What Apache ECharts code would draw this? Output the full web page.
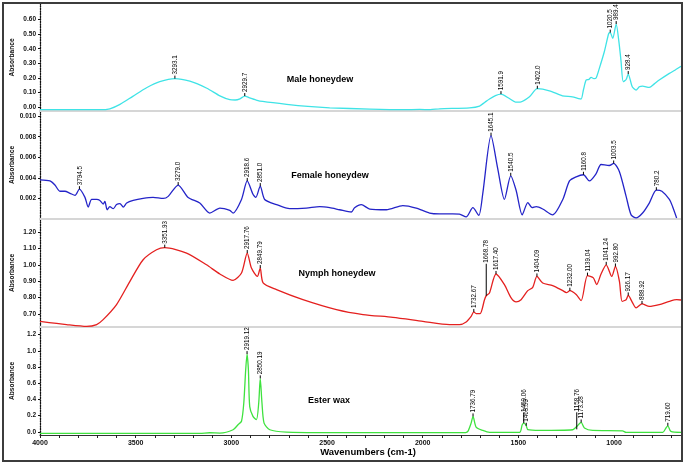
<!DOCTYPE html>
<html>
<head>
<meta charset="utf-8">
<script src="https://cdn.jsdelivr.net/npm/echarts@6/dist/echarts.min.js"></script>
<style>
  html, body { margin: 0; padding: 0; background: #fff; }
  #chart { width: 686px; height: 465px; }
</style>
</head>
<body>
<div id="chart"></div>
<script>
// spectra: [wavenumber, absorbance]
const maleSpectrum = [
  [4000, -0.015], [3800, -0.016], [3687, -0.016], [3635, -0.01], [3582, 0.02], [3515, 0.075],
  [3441, 0.135], [3374, 0.175], [3295, 0.196], [3217, 0.178], [3128, 0.13], [3060, 0.078],
  [3008, 0.052], [2980, 0.05], [2955, 0.058], [2930, 0.077], [2905, 0.065], [2870, 0.05],
  [2836, 0.04], [2711, 0.02], [2600, 0.006], [2486, -0.003], [2277, -0.012], [2100, -0.016],
  [2016, -0.014], [1960, -0.016], [1912, -0.01], [1755, -0.003], [1703, 0.009], [1675, 0.035],
  [1651, 0.057], [1620, 0.08], [1591, 0.09], [1547, 0.06], [1515, 0.036], [1490, 0.036],
  [1442, 0.072], [1401, 0.127], [1338, 0.113], [1270, 0.079], [1218, 0.072], [1185, 0.06],
  [1172, 0.057], [1160, 0.12], [1146, 0.186], [1132, 0.19], [1120, 0.204], [1105, 0.196],
  [1094, 0.2], [1077, 0.266], [1051, 0.379], [1028, 0.504], [1020, 0.51], [1007, 0.47],
  [989, 0.568], [975, 0.45], [964, 0.32], [952, 0.175], [937, 0.19], [926, 0.227], [905, 0.14],
  [885, 0.118], [868, 0.14], [851, 0.145], [816, 0.136], [790, 0.16], [764, 0.186], [711, 0.232],
  [680, 0.255], [650, 0.28]
];
const femaleSpectrum = [
  [4000, 0.0038], [3948, 0.0037], [3922, 0.0033], [3896, 0.0027], [3870, 0.0027], [3843, 0.0025],
  [3817, 0.0023], [3794, 0.0029], [3765, 0.0021], [3748, 0.00116], [3730, 0.0019], [3704, 0.0019],
  [3687, 0.0018], [3670, 0.00145], [3661, 0.0017], [3649, 0.0009], [3635, 0.0012], [3617, 0.001],
  [3600, 0.0014], [3582, 0.0015], [3565, 0.00116], [3547, 0.00155], [3513, 0.0018], [3461, 0.002],
  [3409, 0.0021], [3356, 0.002], [3330, 0.0022], [3278, 0.0033], [3226, 0.0021], [3165, 0.00155],
  [3113, 0.00058], [3060, 0.00106], [3008, 0.00083], [2991, 0.00058], [2947, 0.0019], [2917, 0.0037],
  [2887, 0.0024], [2872, 0.0021], [2849, 0.0032], [2826, 0.0019], [2764, 0.0014], [2695, 0.001],
  [2608, 0.00106], [2538, 0.0012], [2486, 0.0011], [2434, 0.0009], [2373, 0.00068], [2356, 0.0011],
  [2321, 0.0014], [2277, 0.00097], [2190, 0.0009], [2104, 0.0013], [2034, 0.00106], [1964, 0.00058],
  [1912, 0.0005], [1843, 0.0005], [1808, 0.00048], [1773, 0.0002], [1738, 0.0011], [1707, 0.00035],
  [1686, 0.0025], [1643, 0.0081], [1608, 0.0049], [1573, 0.0019], [1540, 0.0042], [1512, 0.0028],
  [1480, 0.0004], [1451, 0.0016], [1428, 0.0011], [1407, 0.0012], [1373, 0.00097], [1321, 0.0004],
  [1268, 0.0019], [1233, 0.0037], [1198, 0.0041], [1160, 0.0043], [1129, 0.0037], [1094, 0.0044],
  [1068, 0.0053], [1025, 0.0052], [1002, 0.0054], [972, 0.0046], [937, 0.0022], [911, 0.0004],
  [885, 0.0001], [851, 0.00058], [816, 0.00155], [779, 0.0028], [750, 0.0027], [711, 0.0019],
  [694, 0.0012], [673, 0.0001]
];
const nymphSpectrum = [
  [4000, 0.655], [3861, 0.635], [3756, 0.624], [3704, 0.635], [3670, 0.665], [3600, 0.757],
  [3530, 0.899], [3461, 1.031], [3391, 1.092], [3348, 1.105], [3234, 1.072], [3130, 1.0],
  [3060, 0.944], [2991, 0.905], [2947, 0.95], [2917, 1.072], [2895, 0.98], [2864, 0.929],
  [2849, 0.98], [2834, 0.889], [2764, 0.848], [2626, 0.787], [2451, 0.726], [2312, 0.696],
  [2156, 0.679], [1999, 0.655], [1860, 0.635], [1808, 0.635], [1773, 0.651], [1747, 0.685],
  [1733, 0.712], [1721, 0.702], [1700, 0.702], [1677, 0.787], [1668, 0.811], [1651, 0.828],
  [1617, 0.944], [1573, 0.879], [1538, 0.798], [1512, 0.773], [1486, 0.787], [1451, 0.842],
  [1425, 0.862], [1403, 0.929], [1373, 0.889], [1321, 0.873], [1268, 0.842], [1249, 0.83],
  [1231, 0.842], [1198, 0.818], [1172, 0.781], [1139, 0.934], [1108, 0.92], [1091, 0.879],
  [1068, 0.944], [1041, 1.0], [1012, 0.929], [993, 0.99], [972, 0.899], [958, 0.777],
  [937, 0.787], [926, 0.813], [903, 0.767], [885, 0.737], [854, 0.761], [816, 0.746],
  [764, 0.757], [711, 0.777], [673, 0.787], [650, 0.785]
];
const esterSpectrum = [
  [4000, -0.02], [3500, -0.02], [3165, -0.02], [3113, -0.012], [3060, -0.016], [2991, 0.025],
  [2965, 0.087], [2947, 0.13], [2935, 0.355], [2925, 0.77], [2918, 0.96], [2911, 0.77],
  [2904, 0.31], [2887, 0.19], [2869, 0.15], [2857, 0.355], [2849, 0.66], [2840, 0.355],
  [2829, 0.107], [2799, 0.025], [2712, -0.004], [2500, -0.01], [2100, -0.01], [1776, -0.01],
  [1764, 0.004], [1747, 0.107], [1737, 0.19], [1721, 0.058], [1686, 0.016], [1651, -0.008],
  [1494, -0.008], [1480, 0.087], [1470, 0.107], [1459, 0.074], [1450, 0.025], [1389, 0.016],
  [1216, 0.025], [1198, 0.058], [1172, 0.115], [1155, 0.046], [1112, 0.016], [956, 0.012],
  [937, -0.008], [746, -0.008], [729, 0.046], [719, 0.074], [703, 0.004], [650, -0.008]
];

// peak marks: [wavenumber, absorbance, stem length]
const malePeaks = [[3295, 0.196, 3], [2930, 0.077, 3], [1591, 0.09, 3], [1401, 0.127, 3], [1020, 0.51, 3], [989, 0.568, 3], [926, 0.227, 3]];
const malePeakText = ['3293.1', '2929.7', '1591.9', '1402.0', '1020.5', '989.4', '928.4'];
const femalePeaks = [[3794, 0.0029, 3], [3278, 0.0033, 3], [2917, 0.0037, 3], [2849, 0.0032, 3], [1643, 0.0081, 3], [1540, 0.0042, 3], [1160, 0.0043, 3], [1002, 0.0054, 3], [779, 0.0028, 3]];
const femalePeakText = ['3794.5', '3279.0', '2918.6', '2851.0', '1645.1', '1540.5', '1160.8', '1003.5', '780.2'];
const nymphPeaks = [[3348, 1.105, 3], [2917, 1.072, 3], [2849, 0.98, 3], [1733, 0.712, 3], [1668, 0.811, 32], [1617, 0.944, 3], [1403, 0.929, 3], [1231, 0.842, 3], [1139, 0.934, 3], [1041, 1.0, 3], [993, 0.99, 3], [926, 0.813, 3], [854, 0.761, 3]];
const nymphPeakText = ['3351.93', '2917.76', '2849.79', '1732.67', '1668.78', '1617.40', '1404.09', '1232.00', '1139.04', '1041.24', '992.80', '926.17', '888.92'];
const esterPeaks = [[2918, 0.96, 3], [2849, 0.66, 3], [1737, 0.19, 3], [1472, 0.107, 10], [1459, 0.074, 3], [1195, 0.03, 17], [1172, 0.115, 3], [719, 0.074, 3]];
const esterPeakText = ['2919.12', '2850.19', '1736.79', '1459.06', '1463.59', '1158.76', '1173.28', '719.60'];

const panelNames = ['Male honeydew', 'Female honeydew', 'Nymph honeydew', 'Ester wax'];
const xLabelTicks = [4000, 3500, 3000, 2500, 2000, 1500, 1000];
const xMinorTicks = [4000, 3900, 3800, 3700, 3600, 3500, 3400, 3300, 3200, 3100, 3000, 2900, 2800, 2700, 2600, 2500, 2400, 2300, 2200, 2100, 2000, 1900, 1800, 1700, 1600, 1500, 1400, 1300, 1200, 1100, 1000, 900, 800, 700];
const yTicksMale = [0, 0.1, 0.2, 0.3, 0.4, 0.5, 0.6];
const yTicksFemale = [0.002, 0.004, 0.006, 0.008, 0.010];
const yTicksNymph = [0.7, 0.8, 0.9, 1.0, 1.1, 1.2];
const yTicksEster = [0, 0.2, 0.4, 0.6, 0.8, 1.0, 1.2];

const FONT = 'Liberation Sans, Arial, sans-serif';
const chart = echarts.init(document.getElementById('chart'));

const panelTops = [4, 111, 219, 327];
const panelHeights = [107, 108, 108, 108];
const yRanges = [[-0.025, 0.705], [0, 0.0105], [0.62, 1.28], [-0.04, 1.295]];
const yTicks = [yTicksMale, yTicksFemale, yTicksNymph, yTicksEster];
const yDigits = [2, 3, 2, 1];
const colors = ['#3fe3e6', '#2424c8', '#e4201f', '#3fe23f'];
const spectra = [maleSpectrum, femaleSpectrum, nymphSpectrum, esterSpectrum];
const peaks = [malePeaks, femalePeaks, nymphPeaks, esterPeaks];
const peakTexts = [malePeakText, femalePeakText, nymphPeakText, esterPeakText];

const grids = panelTops.map((t, i) => ({
  left: 40, right: 4, top: t, height: panelHeights[i],
  containLabel: false, outerBoundsMode: 'none'
}));

const xAxes = panelTops.map((t, i) => {
  const last = i === 3;
  return {
    type: 'value', gridIndex: i, min: 645, max: 4000, inverse: true,
    axisLine: { show: true, onZero: false, lineStyle: last ? { color: '#333', width: 1 } : { color: '#d6d6d6', width: 2 } },
    axisTick: { show: last, customValues: xMinorTicks, length: 3, lineStyle: { color: '#222' } },
    axisLabel: {
      show: last, customValues: xLabelTicks, margin: 5,
      fontSize: 7, fontWeight: 'bold', color: '#111', fontFamily: FONT,
      formatter: v => String(v)
    },
    splitLine: { show: false }
  };
});

const yAxes = panelTops.map((t, i) => ({
  type: 'value', gridIndex: i, min: yRanges[i][0], max: yRanges[i][1],
  name: 'Absorbance', nameLocation: 'middle', nameGap: 24, nameMoveOverlap: false,
  nameTextStyle: { fontSize: 6.6, fontWeight: 'bold', color: '#111', fontFamily: FONT },
  axisLine: { show: true, onZero: false, lineStyle: { color: '#111', type: 'dotted', width: 1.3 } },
  axisTick: { show: true, customValues: yTicks[i], length: 2, lineStyle: { color: '#111' } },
  axisLabel: {
    customValues: yTicks[i], margin: 4,
    fontSize: 6.5, fontWeight: 'bold', color: '#111', fontFamily: FONT,
    formatter: v => v.toFixed(yDigits[i])
  },
  splitLine: { show: false }
}));

const lineSeries = spectra.map((d, i) => ({
  type: 'line', xAxisIndex: i, yAxisIndex: i, data: d,
  showSymbol: false, smooth: 0.25, silent: true,
  lineStyle: { color: colors[i], width: 1.3 }
}));

const peakSeries = peaks.map((d, i) => ({
  type: 'custom', xAxisIndex: i, yAxisIndex: i, data: d, clip: false, silent: true, z: 5,
  renderItem: function (params, api) {
    const p = api.coord([api.value(0), api.value(1)]);
    const stem = api.value(2);
    return {
      type: 'group',
      children: [
        { type: 'line', shape: { x1: p[0], y1: p[1], x2: p[0], y2: p[1] - stem }, style: { stroke: '#000', lineWidth: 1 } },
        {
          type: 'text', x: p[0] + 0.5, y: p[1] - stem - 1, rotation: Math.PI / 2,
          style: {
            text: peakTexts[i][params.dataIndex], fontSize: 6.3, fontFamily: FONT, fill: '#000',
            align: 'left', verticalAlign: 'middle', textAlign: 'left', textVerticalAlign: 'middle'
          }
        }
      ]
    };
  }
}));

const titlePos = [[320, 80], [330, 176], [337, 274], [329, 401]];

const graphics = titlePos.map((p, i) => ({
  type: 'text', x: p[0], y: p[1], z: 10,
  style: {
    text: panelNames[i], font: 'bold 9px ' + FONT, fill: '#000',
    align: 'center', verticalAlign: 'middle', textAlign: 'center', textVerticalAlign: 'middle'
  }
}));
graphics.push({
  type: 'text', x: 368, y: 452, z: 10,
  style: {
    text: 'Wavenumbers (cm-1)', font: 'bold 9.5px ' + FONT, fill: '#000',
    align: 'center', verticalAlign: 'middle', textAlign: 'center', textVerticalAlign: 'middle'
  }
});
graphics.push({
  type: 'rect', shape: { x: 3, y: 3, width: 679, height: 458 }, z: 20,
  style: { fill: 'none', stroke: '#3c3c3c', lineWidth: 2 }
});

chart.setOption({
  backgroundColor: '#fff',
  animation: false,
  grid: grids,
  xAxis: xAxes,
  yAxis: yAxes,
  series: lineSeries.concat(peakSeries),
  graphic: graphics
});
</script>
</body>
</html>
